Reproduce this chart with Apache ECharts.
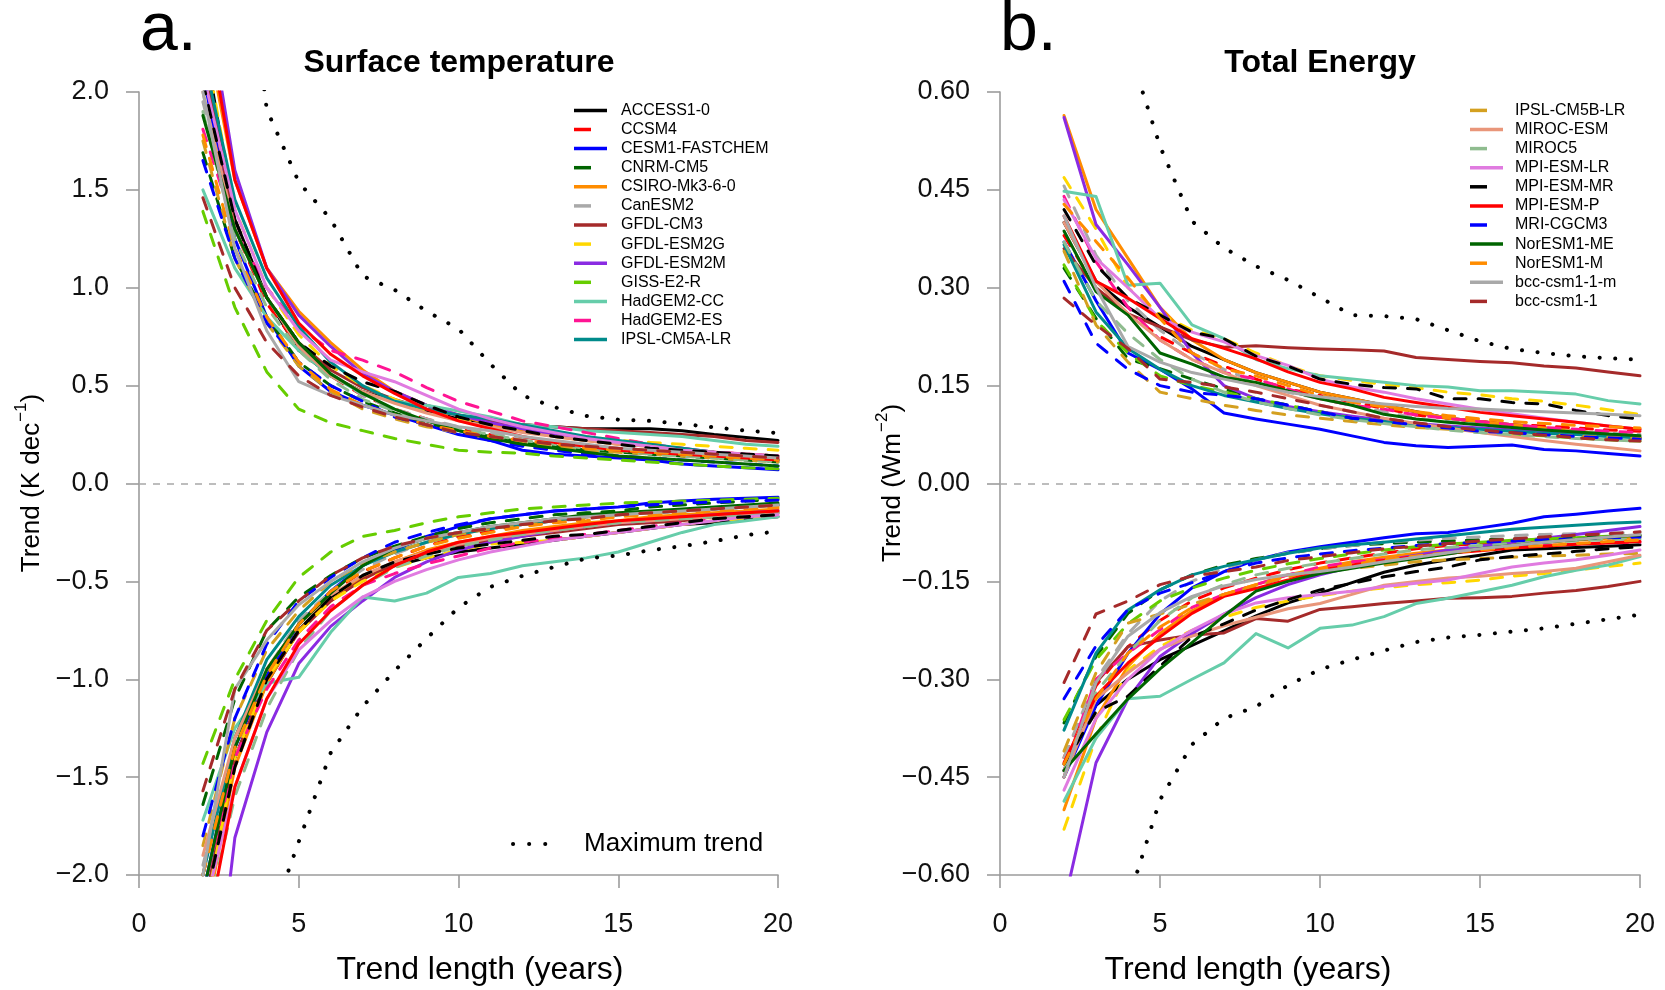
<!DOCTYPE html>
<html>
<head>
<meta charset="utf-8">
<script src="https://cdn.jsdelivr.net/npm/echarts@6/dist/echarts.min.js"></script>
<style>
  html, body { margin: 0; padding: 0; background: #ffffff; }
  #chart { width: 1665px; height: 990px; }
</style>
</head>
<body>
<div id="chart"></div>
<script>
// Trend lengths (years) at which every model trend is evaluated
const years = [2, 3, 4, 5, 6, 7, 8, 9, 10, 11, 12, 13, 14, 15, 16, 17, 18, 19, 20];

// CMIP5 models, in plotting order
const models = [
  'ACCESS1-0', 'CCSM4', 'CESM1-FASTCHEM', 'CNRM-CM5', 'CSIRO-Mk3-6-0', 'CanESM2',
  'GFDL-CM3', 'GFDL-ESM2G', 'GFDL-ESM2M', 'GISS-E2-R', 'HadGEM2-CC', 'HadGEM2-ES',
  'IPSL-CM5A-LR', 'IPSL-CM5B-LR', 'MIROC-ESM', 'MIROC5', 'MPI-ESM-LR', 'MPI-ESM-MR',
  'MPI-ESM-P', 'MRI-CGCM3', 'NorESM1-ME', 'NorESM1-M', 'bcc-csm1-1-m', 'bcc-csm1-1'
];

// Axis tick values
const xTicks = [0, 5, 10, 15, 20];
const tempTicks = [-2.0, -1.5, -1.0, -0.5, 0.0, 0.5, 1.0, 1.5, 2.0];
const energyTicks = [-0.60, -0.45, -0.30, -0.15, 0.00, 0.15, 0.30, 0.45, 0.60];

// Surface temperature: largest positive trend per trend length (K dec-1)
const tempUp = [
  [2.30,1.35,0.95,0.68,0.55,0.47,0.42,0.37,0.33,0.31,0.30,0.29,0.28,0.28,0.28,0.27,0.25,0.235,0.22],
  [2.20,1.30,0.92,0.70,0.55,0.45,0.38,0.33,0.28,0.25,0.22,0.20,0.18,0.17,0.16,0.15,0.14,0.13,0.12],
  [2.10,1.25,0.85,0.60,0.47,0.40,0.35,0.30,0.25,0.22,0.17,0.15,0.14,0.13,0.12,0.10,0.09,0.08,0.07],
  [1.69,1.15,0.85,0.62,0.50,0.42,0.36,0.31,0.27,0.24,0.21,0.19,0.17,0.16,0.15,0.14,0.13,0.12,0.11],
  [2.40,1.55,1.10,0.88,0.72,0.58,0.47,0.40,0.35,0.30,0.27,0.24,0.22,0.20,0.19,0.17,0.16,0.15,0.14],
  [1.95,1.30,0.95,0.72,0.56,0.45,0.38,0.33,0.29,0.26,0.23,0.21,0.19,0.17,0.16,0.15,0.14,0.13,0.12],
  [2.20,1.30,0.95,0.72,0.58,0.49,0.43,0.38,0.35,0.32,0.30,0.29,0.28,0.27,0.26,0.25,0.24,0.22,0.21],
  [2.30,1.40,1.00,0.76,0.60,0.50,0.43,0.37,0.33,0.29,0.27,0.25,0.24,0.22,0.21,0.20,0.19,0.18,0.17],
  [2.60,1.60,1.10,0.86,0.70,0.56,0.47,0.40,0.35,0.31,0.28,0.25,0.23,0.21,0.19,0.18,0.16,0.15,0.14],
  [1.39,0.90,0.57,0.38,0.31,0.27,0.23,0.20,0.17,0.16,0.155,0.14,0.13,0.12,0.11,0.10,0.09,0.08,0.075],
  [1.50,1.10,0.85,0.68,0.55,0.46,0.42,0.40,0.37,0.34,0.30,0.29,0.27,0.26,0.25,0.24,0.22,0.20,0.19],
  [1.81,1.30,1.00,0.80,0.68,0.63,0.57,0.49,0.42,0.37,0.32,0.29,0.26,0.23,0.20,0.18,0.16,0.15,0.14],
  [2.20,1.45,1.05,0.80,0.62,0.50,0.42,0.38,0.35,0.33,0.30,0.27,0.24,0.22,0.20,0.18,0.16,0.14,0.12],
  [1.75,1.15,0.82,0.60,0.47,0.38,0.33,0.29,0.26,0.23,0.21,0.19,0.17,0.16,0.15,0.14,0.13,0.12,0.11],
  [2.00,1.30,0.95,0.70,0.55,0.47,0.41,0.36,0.32,0.29,0.26,0.24,0.22,0.20,0.19,0.17,0.16,0.15,0.14],
  [1.90,1.25,0.90,0.68,0.53,0.43,0.37,0.32,0.28,0.25,0.22,0.20,0.18,0.17,0.15,0.14,0.13,0.12,0.11],
  [2.10,1.40,1.00,0.78,0.63,0.57,0.52,0.45,0.38,0.33,0.29,0.26,0.23,0.21,0.19,0.17,0.16,0.15,0.14],
  [2.05,1.35,0.95,0.72,0.60,0.52,0.47,0.40,0.34,0.30,0.27,0.24,0.22,0.20,0.18,0.17,0.16,0.15,0.14],
  [2.50,1.55,1.10,0.82,0.66,0.55,0.46,0.38,0.32,0.28,0.24,0.21,0.19,0.17,0.16,0.15,0.14,0.13,0.12],
  [1.65,1.15,0.82,0.62,0.50,0.42,0.34,0.30,0.26,0.22,0.19,0.17,0.15,0.14,0.13,0.12,0.11,0.10,0.09],
  [1.88,1.30,0.95,0.72,0.56,0.46,0.38,0.32,0.27,0.23,0.20,0.18,0.16,0.14,0.13,0.12,0.11,0.10,0.09],
  [1.78,1.20,0.85,0.62,0.48,0.40,0.35,0.30,0.27,0.24,0.22,0.20,0.18,0.17,0.16,0.15,0.14,0.13,0.12],
  [2.00,1.20,0.78,0.52,0.45,0.40,0.35,0.32,0.29,0.27,0.24,0.22,0.20,0.18,0.17,0.16,0.15,0.14,0.13],
  [1.46,1.00,0.72,0.55,0.45,0.39,0.34,0.30,0.26,0.24,0.22,0.20,0.19,0.18,0.17,0.16,0.15,0.14,0.13]
];

// Surface temperature: largest negative trend per trend length (K dec-1)
const tempDown = [
  [-2.20,-1.40,-1.02,-0.75,-0.58,-0.48,-0.42,-0.38,-0.35,-0.33,-0.31,-0.29,-0.27,-0.25,-0.23,-0.21,-0.20,-0.18,-0.17],
  [-2.00,-1.30,-0.95,-0.72,-0.56,-0.45,-0.38,-0.32,-0.27,-0.24,-0.21,-0.19,-0.17,-0.16,-0.15,-0.14,-0.13,-0.12,-0.11],
  [-2.10,-1.35,-0.98,-0.72,-0.55,-0.42,-0.34,-0.27,-0.22,-0.18,-0.16,-0.14,-0.13,-0.12,-0.10,-0.09,-0.08,-0.075,-0.07],
  [-1.64,-1.10,-0.75,-0.58,-0.47,-0.38,-0.32,-0.27,-0.23,-0.20,-0.18,-0.16,-0.15,-0.14,-0.12,-0.11,-0.10,-0.09,-0.08],
  [-2.30,-1.45,-1.02,-0.75,-0.60,-0.48,-0.40,-0.34,-0.30,-0.27,-0.24,-0.22,-0.20,-0.19,-0.17,-0.16,-0.15,-0.14,-0.13],
  [-1.95,-1.30,-0.95,-0.70,-0.55,-0.44,-0.36,-0.30,-0.26,-0.23,-0.21,-0.19,-0.17,-0.16,-0.15,-0.14,-0.13,-0.12,-0.11],
  [-2.20,-1.40,-1.00,-0.76,-0.60,-0.49,-0.41,-0.36,-0.32,-0.29,-0.27,-0.25,-0.23,-0.21,-0.20,-0.19,-0.17,-0.16,-0.15],
  [-2.25,-1.40,-1.00,-0.76,-0.60,-0.50,-0.43,-0.38,-0.34,-0.31,-0.30,-0.29,-0.27,-0.25,-0.23,-0.21,-0.19,-0.18,-0.17],
  [-3.20,-1.81,-1.27,-0.92,-0.73,-0.60,-0.48,-0.40,-0.34,-0.30,-0.27,-0.24,-0.22,-0.20,-0.19,-0.17,-0.16,-0.15,-0.14],
  [-1.43,-1.00,-0.70,-0.48,-0.35,-0.27,-0.24,-0.20,-0.17,-0.15,-0.13,-0.12,-0.11,-0.10,-0.095,-0.09,-0.085,-0.08,-0.075],
  [-1.72,-1.25,-1.02,-0.99,-0.76,-0.58,-0.60,-0.56,-0.48,-0.46,-0.42,-0.40,-0.38,-0.35,-0.30,-0.25,-0.21,-0.19,-0.17],
  [-2.10,-1.40,-1.05,-0.80,-0.63,-0.52,-0.46,-0.41,-0.37,-0.33,-0.30,-0.28,-0.26,-0.24,-0.22,-0.20,-0.18,-0.17,-0.16],
  [-2.00,-1.30,-0.90,-0.68,-0.52,-0.42,-0.35,-0.30,-0.26,-0.23,-0.21,-0.19,-0.17,-0.16,-0.15,-0.14,-0.13,-0.12,-0.11],
  [-1.85,-1.20,-0.85,-0.65,-0.50,-0.41,-0.35,-0.30,-0.26,-0.23,-0.21,-0.19,-0.18,-0.16,-0.15,-0.14,-0.13,-0.12,-0.11],
  [-1.90,-1.30,-0.95,-0.72,-0.57,-0.47,-0.40,-0.35,-0.31,-0.28,-0.26,-0.24,-0.22,-0.20,-0.19,-0.18,-0.17,-0.16,-0.15],
  [-2.30,-1.60,-1.15,-0.85,-0.65,-0.52,-0.43,-0.37,-0.32,-0.29,-0.26,-0.24,-0.22,-0.20,-0.19,-0.18,-0.17,-0.16,-0.15],
  [-2.20,-1.55,-1.10,-0.85,-0.70,-0.58,-0.50,-0.44,-0.39,-0.35,-0.32,-0.29,-0.27,-0.25,-0.23,-0.21,-0.19,-0.17,-0.16],
  [-2.20,-1.45,-1.00,-0.75,-0.58,-0.47,-0.40,-0.36,-0.33,-0.31,-0.29,-0.27,-0.26,-0.24,-0.22,-0.20,-0.18,-0.17,-0.16],
  [-2.40,-1.55,-1.10,-0.82,-0.65,-0.52,-0.42,-0.35,-0.30,-0.27,-0.25,-0.23,-0.21,-0.19,-0.18,-0.17,-0.16,-0.15,-0.14],
  [-1.80,-1.20,-0.82,-0.60,-0.48,-0.38,-0.30,-0.25,-0.21,-0.18,-0.16,-0.14,-0.13,-0.12,-0.11,-0.10,-0.095,-0.09,-0.085],
  [-2.10,-1.35,-0.95,-0.72,-0.56,-0.42,-0.33,-0.28,-0.25,-0.22,-0.20,-0.18,-0.16,-0.15,-0.14,-0.13,-0.12,-0.11,-0.10],
  [-2.00,-1.35,-0.98,-0.72,-0.55,-0.45,-0.38,-0.32,-0.28,-0.25,-0.22,-0.20,-0.19,-0.17,-0.16,-0.15,-0.14,-0.13,-0.12],
  [-2.00,-1.05,-0.80,-0.62,-0.50,-0.40,-0.33,-0.28,-0.25,-0.22,-0.20,-0.18,-0.17,-0.16,-0.15,-0.14,-0.13,-0.12,-0.11],
  [-1.57,-1.05,-0.75,-0.60,-0.47,-0.38,-0.32,-0.28,-0.25,-0.23,-0.21,-0.19,-0.18,-0.16,-0.15,-0.14,-0.13,-0.12,-0.11]
];

// Total energy: largest positive trend per trend length (W m-2)
const energyUp = [
  [0.400,0.310,0.270,0.240,0.210,0.190,0.170,0.155,0.140,0.130,0.120,0.110,0.100,0.095,0.090,0.085,0.080,0.075,0.070],
  [0.380,0.300,0.260,0.225,0.200,0.180,0.160,0.145,0.135,0.125,0.115,0.105,0.100,0.095,0.090,0.088,0.085,0.082,0.080],
  [0.370,0.280,0.200,0.175,0.145,0.108,0.099,0.091,0.083,0.073,0.063,0.058,0.055,0.057,0.059,0.052,0.050,0.046,0.042],
  [0.330,0.253,0.191,0.176,0.160,0.145,0.130,0.120,0.110,0.100,0.095,0.090,0.085,0.080,0.078,0.075,0.072,0.070,0.068],
  [0.564,0.420,0.345,0.270,0.220,0.190,0.170,0.155,0.140,0.130,0.120,0.110,0.100,0.095,0.090,0.085,0.080,0.075,0.070],
  [0.456,0.350,0.280,0.235,0.200,0.175,0.155,0.140,0.130,0.120,0.110,0.100,0.095,0.090,0.085,0.082,0.080,0.077,0.075],
  [0.360,0.300,0.260,0.240,0.220,0.209,0.211,0.208,0.206,0.205,0.203,0.193,0.190,0.187,0.185,0.180,0.177,0.171,0.165],
  [0.469,0.390,0.300,0.260,0.235,0.222,0.200,0.180,0.165,0.158,0.152,0.147,0.140,0.136,0.130,0.126,0.120,0.113,0.106],
  [0.561,0.397,0.335,0.270,0.200,0.150,0.130,0.118,0.110,0.103,0.097,0.092,0.088,0.085,0.082,0.080,0.077,0.074,0.070],
  [0.335,0.250,0.200,0.165,0.150,0.140,0.130,0.120,0.110,0.100,0.095,0.090,0.085,0.080,0.076,0.073,0.070,0.067,0.065],
  [0.448,0.440,0.304,0.307,0.243,0.222,0.190,0.176,0.165,0.160,0.155,0.150,0.148,0.142,0.142,0.140,0.137,0.127,0.122],
  [0.440,0.340,0.270,0.220,0.190,0.170,0.160,0.145,0.130,0.120,0.114,0.105,0.100,0.095,0.090,0.086,0.083,0.080,0.078],
  [0.366,0.263,0.207,0.175,0.150,0.135,0.125,0.115,0.107,0.100,0.095,0.090,0.086,0.083,0.080,0.077,0.075,0.072,0.070],
  [0.356,0.243,0.186,0.140,0.130,0.120,0.112,0.105,0.100,0.095,0.090,0.086,0.083,0.080,0.077,0.075,0.073,0.071,0.070],
  [0.400,0.310,0.260,0.220,0.190,0.170,0.150,0.135,0.120,0.110,0.100,0.092,0.085,0.078,0.072,0.066,0.060,0.055,0.050],
  [0.370,0.280,0.230,0.190,0.160,0.140,0.125,0.115,0.105,0.098,0.092,0.087,0.082,0.078,0.075,0.072,0.069,0.067,0.065],
  [0.435,0.345,0.300,0.253,0.232,0.217,0.196,0.181,0.160,0.148,0.140,0.130,0.122,0.114,0.107,0.100,0.094,0.088,0.083],
  [0.420,0.335,0.284,0.258,0.232,0.222,0.195,0.180,0.160,0.152,0.147,0.145,0.130,0.130,0.124,0.122,0.112,0.104,0.099],
  [0.410,0.310,0.284,0.253,0.222,0.207,0.191,0.171,0.155,0.145,0.132,0.124,0.117,0.109,0.104,0.099,0.094,0.088,0.083],
  [0.310,0.215,0.175,0.150,0.140,0.135,0.130,0.120,0.110,0.100,0.095,0.090,0.085,0.080,0.078,0.075,0.072,0.070,0.068],
  [0.387,0.294,0.258,0.200,0.183,0.163,0.155,0.142,0.130,0.120,0.106,0.099,0.094,0.090,0.086,0.082,0.079,0.076,0.073],
  [0.428,0.371,0.315,0.253,0.200,0.176,0.165,0.150,0.135,0.125,0.117,0.110,0.104,0.099,0.095,0.092,0.089,0.087,0.085],
  [0.410,0.300,0.210,0.186,0.170,0.160,0.150,0.140,0.133,0.127,0.122,0.118,0.115,0.114,0.112,0.110,0.108,0.106,0.104],
  [0.284,0.243,0.207,0.160,0.155,0.148,0.140,0.130,0.120,0.110,0.100,0.093,0.087,0.082,0.078,0.074,0.070,0.067,0.065]
];

// Total energy: largest negative trend per trend length (W m-2)
const energyDown = [
  [-0.440,-0.340,-0.300,-0.270,-0.248,-0.226,-0.203,-0.183,-0.168,-0.152,-0.136,-0.125,-0.117,-0.110,-0.102,-0.100,-0.098,-0.096,-0.094],
  [-0.420,-0.310,-0.250,-0.210,-0.180,-0.160,-0.145,-0.132,-0.122,-0.114,-0.107,-0.100,-0.095,-0.092,-0.089,-0.086,-0.084,-0.082,-0.080],
  [-0.450,-0.340,-0.260,-0.200,-0.160,-0.135,-0.117,-0.105,-0.097,-0.090,-0.083,-0.077,-0.075,-0.068,-0.061,-0.051,-0.047,-0.042,-0.038],
  [-0.367,-0.265,-0.199,-0.163,-0.140,-0.125,-0.115,-0.107,-0.100,-0.095,-0.092,-0.090,-0.088,-0.086,-0.085,-0.084,-0.082,-0.081,-0.080],
  [-0.500,-0.360,-0.280,-0.230,-0.195,-0.170,-0.155,-0.140,-0.130,-0.120,-0.113,-0.107,-0.102,-0.098,-0.094,-0.090,-0.087,-0.084,-0.082],
  [-0.420,-0.300,-0.230,-0.180,-0.150,-0.130,-0.117,-0.106,-0.100,-0.095,-0.090,-0.087,-0.084,-0.082,-0.080,-0.078,-0.077,-0.076,-0.075],
  [-0.450,-0.305,-0.250,-0.240,-0.232,-0.229,-0.207,-0.211,-0.193,-0.189,-0.184,-0.180,-0.176,-0.175,-0.173,-0.168,-0.164,-0.158,-0.150],
  [-0.530,-0.390,-0.286,-0.250,-0.225,-0.205,-0.190,-0.180,-0.172,-0.165,-0.160,-0.155,-0.152,-0.148,-0.142,-0.138,-0.133,-0.127,-0.122],
  [-0.645,-0.428,-0.330,-0.265,-0.230,-0.200,-0.175,-0.155,-0.140,-0.128,-0.118,-0.110,-0.102,-0.096,-0.090,-0.084,-0.078,-0.072,-0.066],
  [-0.362,-0.270,-0.215,-0.180,-0.160,-0.145,-0.133,-0.123,-0.115,-0.108,-0.102,-0.097,-0.093,-0.090,-0.087,-0.085,-0.083,-0.081,-0.080],
  [-0.487,-0.390,-0.330,-0.326,-0.300,-0.275,-0.230,-0.252,-0.222,-0.217,-0.204,-0.184,-0.176,-0.166,-0.156,-0.143,-0.133,-0.125,-0.112],
  [-0.440,-0.300,-0.260,-0.224,-0.190,-0.170,-0.155,-0.140,-0.128,-0.120,-0.117,-0.112,-0.107,-0.102,-0.098,-0.095,-0.093,-0.091,-0.090],
  [-0.378,-0.260,-0.194,-0.163,-0.140,-0.127,-0.117,-0.107,-0.099,-0.094,-0.090,-0.085,-0.080,-0.075,-0.070,-0.067,-0.064,-0.061,-0.059],
  [-0.410,-0.290,-0.214,-0.200,-0.185,-0.170,-0.157,-0.143,-0.135,-0.130,-0.125,-0.120,-0.117,-0.115,-0.113,-0.111,-0.110,-0.108,-0.107],
  [-0.450,-0.330,-0.290,-0.254,-0.234,-0.218,-0.205,-0.192,-0.184,-0.170,-0.156,-0.150,-0.145,-0.142,-0.138,-0.135,-0.130,-0.120,-0.110],
  [-0.440,-0.320,-0.260,-0.210,-0.175,-0.155,-0.140,-0.130,-0.122,-0.115,-0.108,-0.102,-0.098,-0.095,-0.092,-0.090,-0.088,-0.086,-0.085],
  [-0.470,-0.360,-0.300,-0.255,-0.225,-0.200,-0.183,-0.175,-0.170,-0.165,-0.158,-0.153,-0.148,-0.138,-0.128,-0.122,-0.117,-0.110,-0.102],
  [-0.430,-0.350,-0.326,-0.280,-0.235,-0.215,-0.194,-0.178,-0.163,-0.153,-0.143,-0.135,-0.128,-0.117,-0.112,-0.108,-0.104,-0.100,-0.097],
  [-0.428,-0.326,-0.275,-0.235,-0.199,-0.173,-0.161,-0.148,-0.133,-0.125,-0.118,-0.112,-0.107,-0.103,-0.099,-0.096,-0.093,-0.091,-0.089],
  [-0.330,-0.249,-0.193,-0.168,-0.152,-0.135,-0.122,-0.114,-0.108,-0.103,-0.099,-0.095,-0.092,-0.090,-0.088,-0.086,-0.085,-0.083,-0.082],
  [-0.440,-0.384,-0.330,-0.284,-0.244,-0.203,-0.165,-0.150,-0.138,-0.130,-0.122,-0.115,-0.108,-0.100,-0.095,-0.090,-0.086,-0.082,-0.079],
  [-0.430,-0.330,-0.260,-0.220,-0.190,-0.170,-0.155,-0.142,-0.132,-0.124,-0.117,-0.111,-0.106,-0.102,-0.098,-0.095,-0.092,-0.089,-0.087],
  [-0.450,-0.305,-0.234,-0.198,-0.173,-0.157,-0.147,-0.140,-0.135,-0.128,-0.120,-0.113,-0.106,-0.100,-0.095,-0.090,-0.086,-0.082,-0.078],
  [-0.305,-0.200,-0.180,-0.155,-0.142,-0.135,-0.128,-0.118,-0.112,-0.106,-0.100,-0.096,-0.092,-0.088,-0.085,-0.082,-0.079,-0.077,-0.074]
];

// Maximum trend envelopes (null where undefined)
const tempMaxUp = [null, 3.20, 1.91, 1.54, 1.35, 1.06, 0.99, 0.88, 0.79, 0.61, 0.45, 0.39, 0.345, 0.326, 0.32, 0.304, 0.287, 0.27, 0.258];
const tempMaxDown = [null, -3.30, -2.29, -1.83, -1.376, -1.14, -0.957, -0.792, -0.634, -0.528, -0.472, -0.426, -0.383, -0.368, -0.341, -0.32, -0.295, -0.264, -0.244];
const energyMaxUp = [null, 0.95, 0.67, 0.517, 0.402, 0.361, 0.333, 0.312, 0.285, 0.258, 0.2565, 0.252, 0.235, 0.218, 0.206, 0.200, 0.195, 0.192, 0.190];
const energyMaxDown = [null, -0.85, -0.64, -0.485, -0.400, -0.360, -0.342, -0.309, -0.285, -0.270, -0.256, -0.243, -0.236, -0.232, -0.227, -0.222, -0.215, -0.208, -0.201];

// ---- styling ----
const modelColors = [
  '#000000', '#ff0000', '#0000ff', '#006400', '#ff8c00', '#a9a9a9',
  '#a52a2a', '#ffd700', '#8a2be2', '#66cd00', '#66cdaa', '#ff1493',
  '#008b8b', '#d4a020', '#e9967a', '#8fbc8f', '#e07be0', '#000000',
  '#ff0000', '#0000ff', '#006400', '#ff8c00', '#a9a9a9', '#a52a2a'
];
const FONT = '"Liberation Sans", Arial, Helvetica, sans-serif';
const AXIS_GREY = '#9c9c9c';
const DASH = [12, 12];
const DOTS = [0.1, 15.5];

function isDashed(i) { return i % 2 === 1; }

function tickFormatter(ticks, digits) {
  return function (v) {
    const r = Math.round(v * 1000) / 1000;
    const s = Math.abs(r).toFixed(digits);
    return (r < 0 ? '\u2212' : '') + s;
  };
}

const gridA = { left: 139, top: 92, width: 639, height: 783, outerBoundsMode: 'none' };
const gridB = { left: 1000, top: 92, width: 640, height: 783, outerBoundsMode: 'none' };

function makeXAxis(gridIndex) {
  return {
    type: 'value', gridIndex: gridIndex,
    min: xTicks[0], max: xTicks[xTicks.length - 1], interval: xTicks[1] - xTicks[0],
    axisLine: { show: true, onZero: false, lineStyle: { color: AXIS_GREY, width: 1.6 } },
    axisTick: { show: true, length: 13, lineStyle: { color: AXIS_GREY, width: 1.6 } },
    axisLabel: { fontSize: 27, color: '#111', fontFamily: FONT, margin: 36 },
    splitLine: { show: false }
  };
}

function makeYAxis(gridIndex, ticks, digits) {
  return {
    type: 'value', gridIndex: gridIndex,
    min: ticks[0], max: ticks[ticks.length - 1],
    interval: (ticks[ticks.length - 1] - ticks[0]) / (ticks.length - 1),
    axisLine: { show: true, onZero: false, lineStyle: { color: AXIS_GREY, width: 1.6 } },
    axisTick: { show: true, length: 13, lineStyle: { color: AXIS_GREY, width: 1.6 } },
    axisLabel: { fontSize: 27, color: '#111', fontFamily: FONT, margin: 30,
                 formatter: tickFormatter(ticks, digits) },
    splitLine: { show: false }
  };
}

function pairs(values) {
  const out = [];
  years.forEach(function (x, k) { if (values[k] !== null) out.push([x, values[k]]); });
  return out;
}

function modelLine(axisIndex, values, i) {
  return {
    type: 'line', xAxisIndex: axisIndex, yAxisIndex: axisIndex,
    name: models[i], data: pairs(values),
    symbol: 'none', showSymbol: false, silent: true, clip: true, z: 3,
    lineStyle: { color: modelColors[i], width: 3, type: isDashed(i) ? DASH : 'solid', cap: 'round', join: 'round' }
  };
}

function maxLine(axisIndex, values) {
  return {
    type: 'line', xAxisIndex: axisIndex, yAxisIndex: axisIndex,
    data: pairs(values), symbol: 'none', showSymbol: false, silent: true, clip: true, z: 4,
    lineStyle: { color: '#000', width: 4, type: DOTS, cap: 'round' }
  };
}

function zeroLine(axisIndex) {
  return {
    type: 'line', xAxisIndex: axisIndex, yAxisIndex: axisIndex, data: [], silent: true, z: 1,
    markLine: {
      silent: true, symbol: 'none', animation: false, label: { show: false },
      lineStyle: { color: '#a8a8a8', width: 1.6, type: [7, 7] },
      data: [{ yAxis: 0 }]
    }
  };
}

const series = [zeroLine(0), zeroLine(1)];
models.forEach(function (m, i) {
  series.push(modelLine(0, tempUp[i], i));
  series.push(modelLine(0, tempDown[i], i));
  series.push(modelLine(1, energyUp[i], i));
  series.push(modelLine(1, energyDown[i], i));
});
series.push(maxLine(0, tempMaxUp), maxLine(0, tempMaxDown));
series.push(maxLine(1, energyMaxUp), maxLine(1, energyMaxDown));

// ---- text and legends drawn as graphic elements ----
const graphics = [];
function text(x, y, str, opts) {
  graphics.push({
    type: 'text', x: x, y: y, silent: true, rotation: opts.rotation || 0,
    style: Object.assign({
      text: str, fill: '#000', fontFamily: FONT, fontSize: opts.size,
      fontWeight: opts.weight || 'normal',
      textAlign: opts.align || 'left', textVerticalAlign: opts.valign || 'middle'
    }, opts.rich ? { rich: opts.rich } : {})
  });
}

text(140, 31.5, 'a.', { size: 68 });
text(1000, 31.5, 'b.', { size: 68 });
text(459, 63, 'Surface temperature', { size: 32, weight: 'bold', align: 'center' });
text(1320, 63, 'Total Energy', { size: 32, weight: 'bold', align: 'center' });
text(480, 970, 'Trend length (years)', { size: 32, align: 'center' });
text(1248, 970, 'Trend length (years)', { size: 32, align: 'center' });

const supRich = {
  t: { fontSize: 26, fontFamily: FONT, fill: '#000', lineHeight: 32, verticalAlign: 'bottom' },
  s: { fontSize: 17, fontFamily: FONT, fill: '#000', lineHeight: 32, verticalAlign: 'top', padding: [0, 0, 0, 1] }
};
text(29, 483, '{t|Trend (K dec}{s|\u22121}{t|)}', { size: 26, align: 'center', rotation: Math.PI / 2, rich: supRich });
text(890, 483, '{t|Trend (Wm}{s|\u22122}{t|)}', { size: 26, align: 'center', rotation: Math.PI / 2, rich: supRich });

function legendBlock(first, count, lineX, textX) {
  for (let k = 0; k < count; k++) {
    const i = first + k;
    const y = 110.4 + k * 19.1;
    const len = isDashed(i) ? 17 : 33;
    graphics.push({
      type: 'line', silent: true,
      shape: { x1: lineX, y1: y, x2: lineX + len, y2: y },
      style: { stroke: modelColors[i], lineWidth: 3.5, lineCap: 'butt' }
    });
    text(textX, y, models[i], { size: 16 });
  }
}
legendBlock(0, 13, 574, 621);
legendBlock(13, 11, 1470, 1515);

graphics.push({
  type: 'line', silent: true,
  shape: { x1: 513, y1: 844, x2: 546, y2: 844 },
  style: { stroke: '#000', lineWidth: 4, lineDash: [0.1, 16], lineCap: 'round' }
});
text(584, 844, 'Maximum trend', { size: 26 });

const chart = echarts.init(document.getElementById('chart'), null, { renderer: 'canvas' });
chart.setOption({
  animation: false,
  backgroundColor: '#ffffff',
  textStyle: { fontFamily: FONT },
  grid: [gridA, gridB],
  xAxis: [makeXAxis(0), makeXAxis(1)],
  yAxis: [makeYAxis(0, tempTicks, 1), makeYAxis(1, energyTicks, 2)],
  series: series,
  graphic: graphics
});
</script>
</body>
</html>
